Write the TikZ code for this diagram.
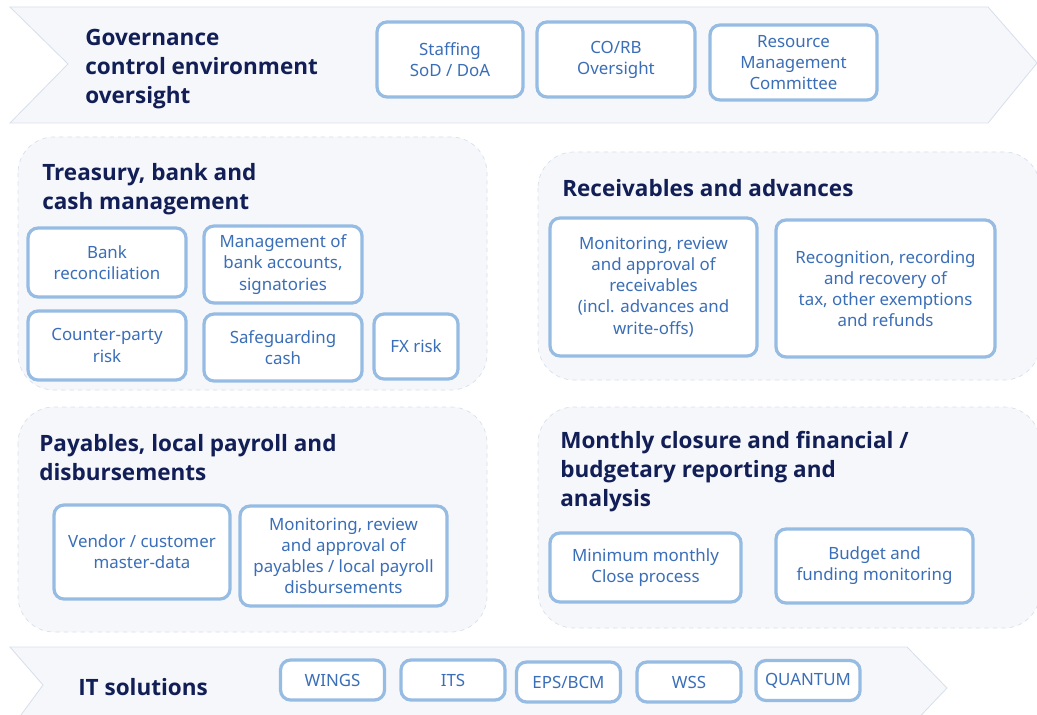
\documentclass[tikz,border=0pt]{standalone}
\usepackage{fontspec}
\setmainfont{Noto Sans}
\newfontfamily\headfont{Open Sans}
\usetikzlibrary{positioning}

\newlength\px
\setlength\px{0.025cm}

\definecolor{navy}{RGB}{18,30,86}
\definecolor{boxline}{RGB}{150,188,228}
\definecolor{boxtext}{RGB}{58,110,184}
\definecolor{panelfill}{RGB}{246,247,250}
\definecolor{panelline}{RGB}{216,224,236}

\begin{document}
\begin{tikzpicture}[x=0.025cm, y=-0.025cm,
    box/.style={draw=boxline, line width=2.3pt, rounded corners=10\px, fill=white,
      text=boxtext, align=center, inner sep=1pt, font=\fontsize{12}{15}\selectfont},
    itbox/.style={box, minimum width=104\px, minimum height=40\px, font=\fontsize{12}{14}\selectfont},
    heading/.style={anchor=west, text=navy, align=left, inner sep=0pt,
      font=\headfont\bfseries\fontsize{16}{20.5}\selectfont},
    panel/.style={fill=panelfill, draw=panelline, dashed, line width=0.5pt, rounded corners=36\px},
    band/.style={fill=panelfill, draw=panelline, line width=0.6pt}]

    \clip (0,0) rectangle (1037,715);
    \fill[white] (0,0) rectangle (1037,715);

    % Bands and panels
    \draw[band] (10,7) -- (988,7) -- (1037,63) -- (988,123) -- (10,123) -- (68,64) -- cycle;
    \draw[band] (10,647) -- (907,647) -- (947,688) -- (907,730) -- (10,730) -- (43,685) -- cycle;
    \draw[panel] (18,137) rectangle (487,390);
    \draw[panel] (538,152) rectangle (1040,380);
    \draw[panel] (18,407) rectangle (487,632);
    \draw[panel] (538,407) rectangle (1040,628);

    % Headings
    \node[heading] (gov) at (85,69) {Governance\\control environment\\oversight};
    \node[heading] (treasury) at (42,189.5) {Treasury, bank and\\cash management};
    \node[heading] (receiv) at (562,188) {Receivables and advances};
    \node[heading] (payab) at (39,457.5) {Payables, local payroll and\\disbursements};
    \node[heading] (monthly) at (560,471.5) {Monthly closure and financial /\\budgetary reporting and\\analysis};
    \node[heading] (itsol) at (78,687) {IT solutions};

    % Governance boxes
    \node[box, minimum width=146\px, minimum height=75\px] (staffing) at (450,59.5) {Staffing\\SoD / DoA};
    \node[box, minimum width=158\px, minimum height=75\px] (corb) at (616,59.5) {CO/RB\\Oversight};
    \node[box, minimum width=167\px, minimum height=75\px] (resmgmt) at (793.5,62.5) {Resource\\Management\\Committee};

    % Treasury boxes
    \node[box, minimum width=158\px, minimum height=69\px] (bankrec) at (107,262.5) {Bank\\reconciliation};
    \node[box, minimum width=158\px, minimum height=77\px] (bankacc) at (283,264.5) {Management of\\bank accounts,\\signatories};
    \node[box, minimum width=158\px, minimum height=69\px] (counter) at (107,345.5) {Counter-party\\risk};
    \node[box, minimum width=158\px, minimum height=67\px] (safeg) at (283,347.5) {Safeguarding\\cash};
    \node[box, minimum width=84\px, minimum height=65\px] (fxrisk) at (416,346.5) {FX risk};

    % Receivables boxes
    \node[box, minimum width=207\px, minimum height=138\px] (monrec) at (653.5,287) {Monitoring, review\\and approval of\\receivables\\(incl. advances and\\write-offs)};
    \node[box, minimum width=219\px, minimum height=137\px] (recog) at (885.5,288.5) {Recognition, recording\\and recovery of\\tax, other exemptions\\and refunds};

    % Payables boxes
    \node[box, minimum width=176\px, minimum height=94\px] (vendor) at (142,552) {Vendor / customer\\master-data};
    \node[box, minimum width=207\px, minimum height=100\px] (monpay) at (343.5,556) {Monitoring, review\\and approval of\\payables / local payroll\\disbursements};

    % Monthly closure boxes
    \node[box, minimum width=191\px, minimum height=69\px] (minclose) at (645.5,567.5) {Minimum monthly\\Close process};
    \node[box, minimum width=197\px, minimum height=74\px] (budget) at (874.5,566) {Budget and\\funding monitoring};

    % IT boxes
    \foreach \nm/\cx/\cy/\lbl in {wings/332.5/680/WINGS, its/453/680/ITS, epsbcm/568.5/682/{EPS/BCM},
        wss/689/682/WSS, quantum/808/680.5/QUANTUM} {
        \node[itbox] (\nm) at (\cx,\cy) {\lbl};
    }
\end{tikzpicture}
\end{document}
